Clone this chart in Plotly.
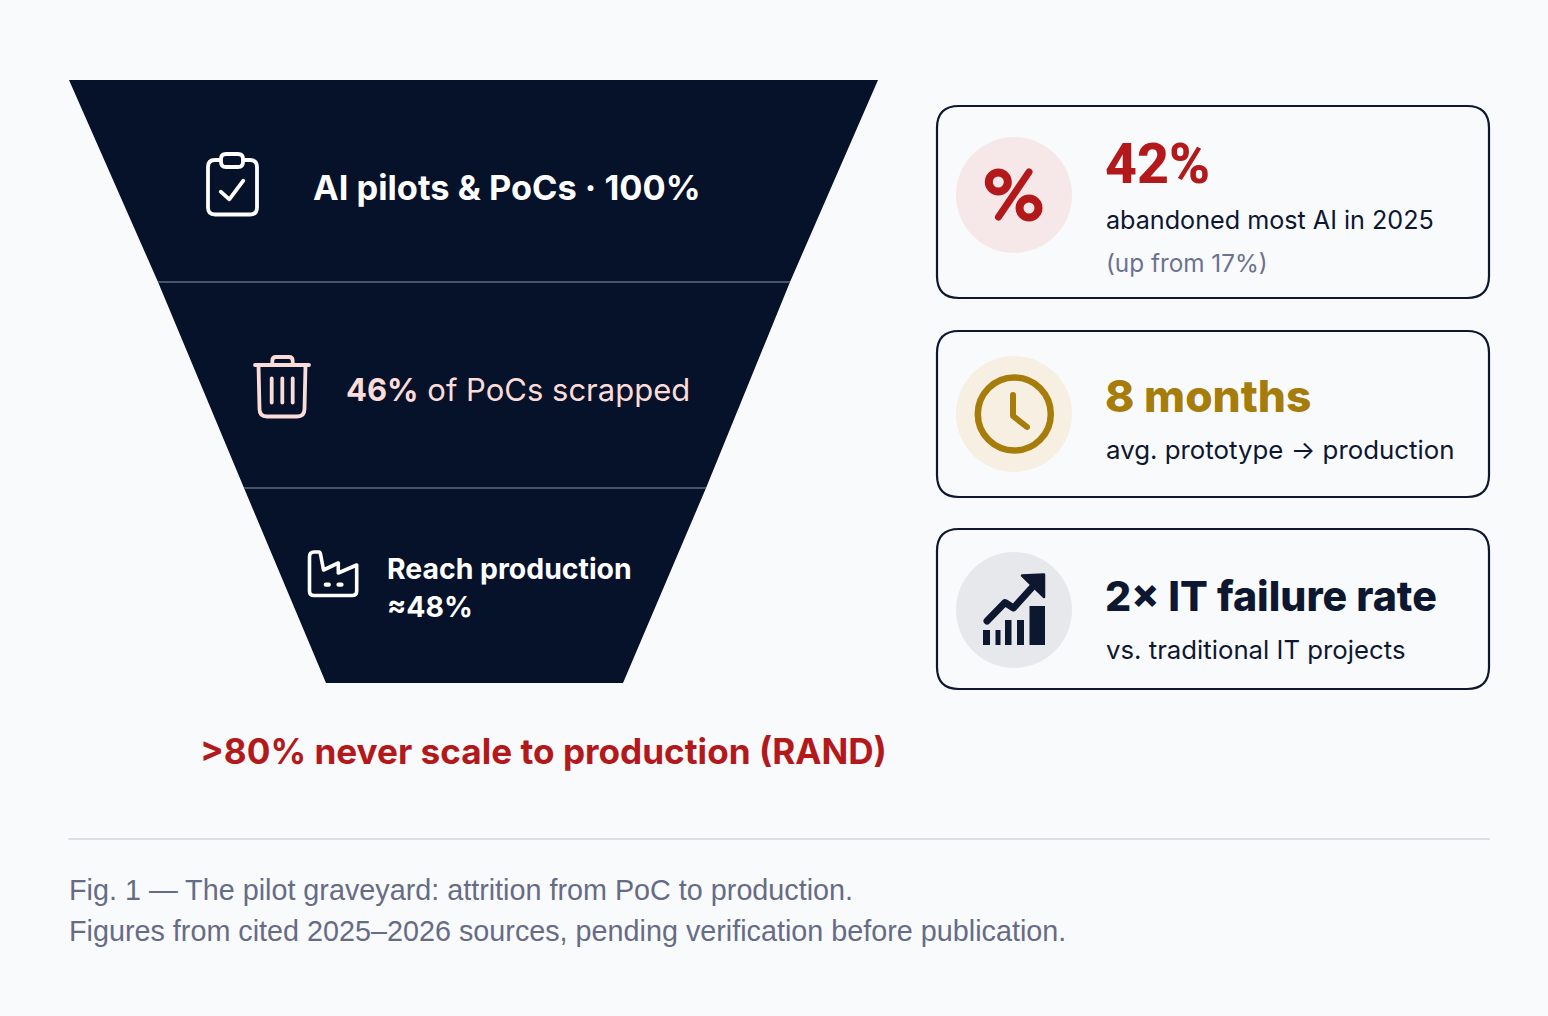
import plotly.graph_objects as go

BG = "#f9fafc"
NAVY = "#06112a"
INK = "#0d1730"
RED = "#b3191b"
GOLD = "#a67c0a"
PINK = "#fbdcd8"
MUTED = "#6b7290"
CAPTION = "#666c85"

# funnel outline, px
funnel_x = [69, 878, 790, 706, 623, 326, 244, 158, 69]
funnel_y = [80, 80, 282, 488, 683, 683, 488, 282, 80]
divider_y = [282, 488]
divider_left = [158, 244]
divider_right = [790, 706]

stage_labels = ["<b>AI pilots &amp; PoCs · 100%</b>", "<b>46%</b> of PoCs scrapped", "<b>Reach production</b>", "<b>≈48%</b>"]
stage_x = [311, 344, 385, 385]
stage_y = [187, 389, 568, 606]
stage_size = [34.4, 31, 28.4, 28.4]
stage_color = ["white", PINK, "white", "white"]

card_top = [106, 331, 529]
card_bottom = [298, 497, 689]
circle_y = [195, 414, 610]
circle_color = ["#f6e8e8", "#f6efe2", "#e6e8ec"]

card_heads = ["42%", "8 months", "2× IT failure rate"]
head_family = ["Roboto", "Inter", "Inter"]
head_y = [164, 396, 596]
head_size = [55.5, 44.3, 41.1]
head_color = [RED, GOLD, INK]

card_subs = ["abandoned most AI in 2025", "(up from 17%)", "avg. prototype → production", "vs. traditional IT projects"]
sub_y = [220, 263, 449, 649]
sub_size = [25.15, 24.3, 25.85, 25.75]
sub_color = [INK, MUTED, INK, INK]

callout = "<b>&gt;80% never scale to production (RAND)</b>"
captions = ["Fig. 1 — The pilot graveyard: attrition from PoC to production.",
            "Figures from cited 2025–2026 sources, pending verification before publication."]
caption_y = [890, 931]


def rounded(x0, y0, x1, y1, r):
    return (f"M{x0+r},{y0} L{x1-r},{y0} Q{x1},{y0} {x1},{y0+r} L{x1},{y1-r} Q{x1},{y1} {x1-r},{y1} "
            f"L{x0+r},{y1} Q{x0},{y1} {x0},{y1-r} L{x0},{y0+r} Q{x0},{y0} {x0+r},{y0} Z")


def stroke(path, color, width, fill=None):
    d = dict(type="path", path=path, line=dict(color=color, width=width), layer="above")
    if fill:
        d["fillcolor"] = fill
    return d


def ring(cx, cy, r, color, width, fill="rgba(0,0,0,0)"):
    return dict(type="circle", x0=cx-r, x1=cx+r, y0=cy-r, y1=cy+r, layer="above",
                line=dict(color=color, width=width), fillcolor=fill)


fig = go.Figure()
fig.add_trace(go.Scatter(x=funnel_x, y=funnel_y, mode="lines", fill="toself", fillcolor=NAVY,
                         line=dict(color=NAVY, width=0), hoverinfo="skip"))
for y, x0, x1 in zip(divider_y, divider_left, divider_right):
    fig.add_trace(go.Scatter(x=[x0, x1], y=[y, y], mode="lines", line=dict(color="#48546c", width=2), hoverinfo="skip"))

shapes = []
# footer rule
shapes.append(dict(type="line", x0=69, x1=1489, y0=839, y1=839, line=dict(color="#dcdfe4", width=2)))

# cards
for top, bottom, cy, col in zip(card_top, card_bottom, circle_y, circle_color):
    shapes.append(stroke(rounded(937, top, 1489, bottom, 22), INK, 2.2))
    shapes.append(dict(type="circle", x0=956, x1=1072, y0=cy-58, y1=cy+58, fillcolor=col, line=dict(width=0), layer="above"))

# clipboard icon
shapes.append(stroke(rounded(208, 160, 257, 214.5, 7), "white", 3.8))
shapes.append(stroke(rounded(221, 154, 243, 167, 5), "white", 3.8, fill=NAVY))
shapes.append(stroke("M220.7,191.7 L229.3,199.3 L243.3,180.7", "white", 3.8))

# trash icon
shapes.append(stroke("M255,365 L309,365", PINK, 3.8))
shapes.append(stroke("M272.3,364 L272.3,361 Q272.3,357 276,357 L289,357 Q292.7,357 292.7,361 L292.7,364", PINK, 3.8))
shapes.append(stroke("M258.5,365 L259.5,409 Q259.5,416.5 267,416.5 L297,416.5 Q304.5,416.5 304.5,409 L305.5,365", PINK, 3.8))
for bx in [271.7, 282.3, 292.7]:
    shapes.append(stroke(f"M{bx},378.5 L{bx},402.5", PINK, 3.8))

# factory icon
shapes.append(stroke("M309.5,557 Q309.5,552 314,552 L319,552 Q320,552 320.5,554 L323.5,570 L338.3,563 L338.3,573 "
                     "L356.7,565 L356.7,591 Q356.7,595.5 352,595.5 L314,595.5 Q309.5,595.5 309.5,591 Z", "white", 3.6))
for dx in [327.3, 340]:
    shapes.append(stroke(f"M{dx-1.5},584.7 L{dx+1.5},584.7", "white", 4.2))

# percent icon
shapes.append(ring(998.3, 182, 9.5, RED, 8))
shapes.append(ring(1029, 208, 9.5, RED, 8))
shapes.append(stroke("M1029,172 L998.5,217", RED, 7))

# clock icon
shapes.append(ring(1014.3, 414, 36.5, GOLD, 6.5))
shapes.append(stroke("M1013,395 L1013,416 L1027,427", GOLD, 6))

# growth icon
for x0, x1, y0 in [(983, 990, 630), (995.5, 1000.5, 630), (1005, 1011.5, 620), (1017, 1024, 620), (1029.5, 1045, 606)]:
    shapes.append(dict(type="rect", x0=x0, x1=x1, y0=y0, y1=645, fillcolor=INK, line=dict(width=0), layer="above"))
shapes.append(stroke("M987,621 L1005,602.5 L1013.5,608 L1037,582", INK, 7))
shapes.append(stroke("M1022,575.5 L1044,574.5 L1044,597 Z", INK, 2.5, fill=INK))


def label(x, y, text, size, color, family="Inter", weight=None):
    font = dict(family=family, size=size, color=color)
    if weight:
        font["weight"] = weight
    return dict(x=x, y=y, text=text, xanchor="left", yanchor="middle", showarrow=False,
                font=font, xref="x", yref="y")


annotations = []
for t, x, y, s, c in zip(stage_labels, stage_x, stage_y, stage_size, stage_color):
    annotations.append(label(x, y, t, s, c))
annotations.append(label(198, 751, callout, 35.15, RED))
for t, y, s, c, f in zip(card_heads, head_y, head_size, head_color, head_family):
    annotations.append(label(1103, y, t, s, c, family=f, weight=800))
for t, y, s, c in zip(card_subs, sub_y, sub_size, sub_color):
    annotations.append(label(1104, y, t, s, c))
for t, y in zip(captions, caption_y):
    annotations.append(label(67, y, t, 28.75, CAPTION, family="Liberation Sans"))

fig.update_layout(
    width=1548, height=1016, margin=dict(l=0, r=0, t=0, b=0),
    paper_bgcolor=BG, plot_bgcolor=BG, showlegend=False,
    shapes=shapes, annotations=annotations,
    xaxis=dict(range=[0, 1548], visible=False, fixedrange=True),
    yaxis=dict(range=[1016, 0], visible=False, fixedrange=True),
)

page_js = """
document.body.style.margin = '0';
document.body.style.background = '%s';
document.querySelectorAll('.shapelayer path').forEach(function (p) {
  p.style.strokeLinecap = 'round';
  p.style.strokeLinejoin = 'round';
});
""" % BG

fig.write_html("out.html", post_script=page_js, config={"displayModeBar": False})
